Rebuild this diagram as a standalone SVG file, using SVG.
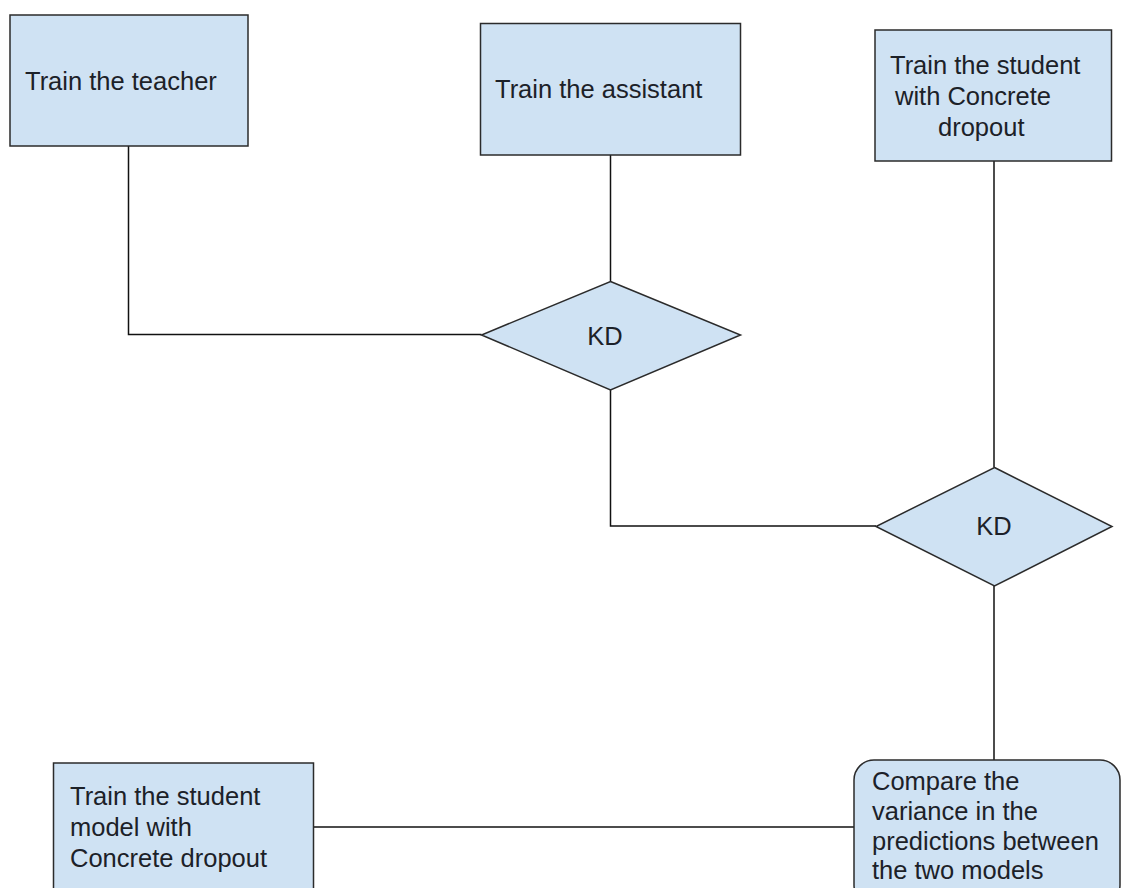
<svg xmlns="http://www.w3.org/2000/svg" width="1121" height="888" viewBox="0 0 1121 888">
  <style>
    .box { fill: #cfe2f3; stroke: #2b2b2b; stroke-width: 1.5; }
    .wire { fill: none; stroke: #111; stroke-width: 1.5; }
    .lbl { font-family: "Liberation Sans", Arial, sans-serif; font-size: 25.5px; fill: #1c2128; }
  </style>
  <rect width="1121" height="888" fill="#ffffff"/>

  <!-- connectors -->
  <g id="connectors">
    <polyline class="wire" points="128.5,146 128.5,334.5 481.5,334.5"/>
    <line class="wire" x1="610.5" y1="155" x2="610.5" y2="281.5"/>
    <polyline class="wire" points="610.5,390 610.5,526 876,526"/>
    <line class="wire" x1="994" y1="161" x2="994" y2="467.5"/>
    <line class="wire" x1="994" y1="586" x2="994" y2="760"/>
    <line class="wire" x1="313.5" y1="827" x2="854" y2="827"/>
  </g>

  <g id="train-teacher">
    <rect class="box" x="10" y="15" width="238" height="131"/>
    <text class="lbl" x="25" y="90">Train the teacher</text>
  </g>

  <g id="train-assistant">
    <rect class="box" x="480.5" y="23.5" width="260" height="131.5"/>
    <text class="lbl" x="495" y="98">Train the assistant</text>
  </g>

  <g id="train-student-top">
    <rect class="box" x="875" y="30" width="236.5" height="131"/>
    <text class="lbl" x="890" y="74">Train the student</text>
    <text class="lbl" x="895" y="105">with Concrete</text>
    <text class="lbl" x="938" y="136">dropout</text>
  </g>

  <g id="kd-1">
    <polygon class="box" points="610.5,281.5 740.5,335 610.5,390 481.5,335"/>
    <text class="lbl" x="605" y="345" text-anchor="middle">KD</text>
  </g>

  <g id="kd-2">
    <polygon class="box" points="994.5,467.5 1112,526.5 994.5,586 876,526.5"/>
    <text class="lbl" x="994" y="535" text-anchor="middle">KD</text>
  </g>

  <g id="train-student-bottom">
    <rect class="box" x="53.5" y="763" width="260" height="140"/>
    <text class="lbl" x="70" y="805">Train the student</text>
    <text class="lbl" x="70" y="836">model with</text>
    <text class="lbl" x="70" y="867">Concrete dropout</text>
  </g>

  <g id="compare-variance">
    <rect class="box" x="854" y="760" width="266" height="145" rx="20" ry="20"/>
    <text class="lbl" x="872" y="790">Compare the</text>
    <text class="lbl" x="872" y="820">variance in the</text>
    <text class="lbl" x="872" y="850">predictions between</text>
    <text class="lbl" x="872" y="879">the two models</text>
  </g>
</svg>
